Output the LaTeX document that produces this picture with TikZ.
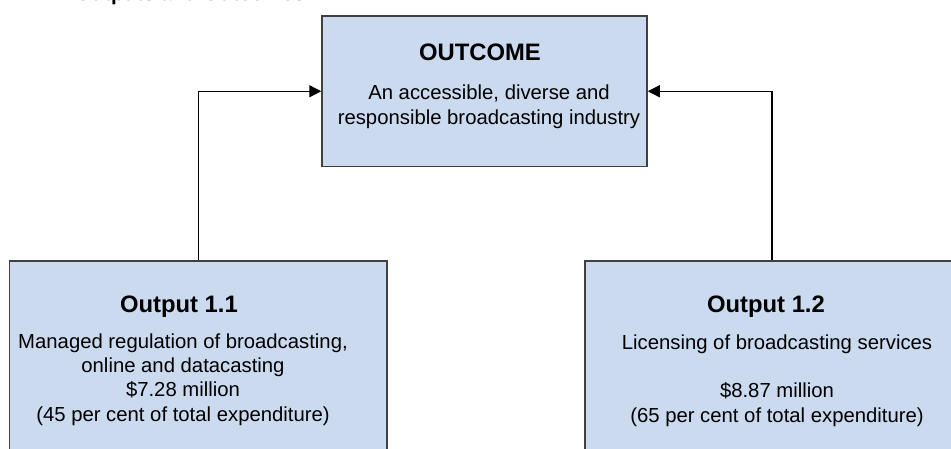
\documentclass[tikz,border=0pt]{standalone}
\usepackage{fontspec}
\setmainfont{Liberation Sans}
\usetikzlibrary{arrows.meta}
\definecolor{boxfill}{RGB}{203,218,239}
\definecolor{boxline}{RGB}{64,64,64}
\begin{document}
\begin{tikzpicture}[x=1pt,y=-1pt,
  panel/.style={draw=boxline, line width=1.5pt, fill=boxfill, inner sep=0pt},
  titletext/.style={font=\fontsize{20.8}{25}\selectfont\bfseries, inner sep=0pt, anchor=base west},
  headtext/.style={font=\fontsize{23.8}{28}\selectfont\bfseries, inner sep=0pt, anchor=base},
  bodytext/.style={font=\fontsize{20.3}{24.2}\selectfont, inner sep=0pt, anchor=base, align=center},
  link/.style={draw=black, line width=1.3pt, -{Triangle[length=12pt,width=12pt]}}]
\useasboundingbox (0,0) rectangle (951,448);
\clip (0,0) rectangle (951,448);

% page heading, running off the top edge
\node[titletext] (title) at (75,0.8) {Outputs and Outcomes};

% boxes
\node[panel, minimum width=325pt, minimum height=150.5pt] (outcome) at (484.5,91.25) {};
\node[panel, minimum width=377.5pt, minimum height=209pt] (out1) at (198.25,365.5) {};
\node[panel, minimum width=395pt, minimum height=209pt] (out2) at (782.5,365.5) {};

% box texts (body nodes are placed by the baseline of their last line)
\node[headtext] (h0) at (480,60) {OUTCOME};
\node[bodytext] (b0) at (489,124) {An accessible, diverse and\\responsible broadcasting industry};

\node[headtext] (h1) at (179,312) {Output 1.1};
\node[bodytext] (b1) at (183,421) {Managed regulation of broadcasting,\\online and datacasting\\\$7.28 million\\(45 per cent of total expenditure)};

\node[headtext] (h2) at (766,312) {Output 1.2};
\node[bodytext] (b2) at (777,422) {Licensing of broadcasting services\\\mbox{}\\\$8.87 million\\(65 per cent of total expenditure)};

% connectors from outputs to the outcome
\draw[link] (out1.north) |- (outcome.west);
\draw[link] ([xshift=-10.5pt]out2.north) |- (outcome.east);
\end{tikzpicture}
\end{document}
